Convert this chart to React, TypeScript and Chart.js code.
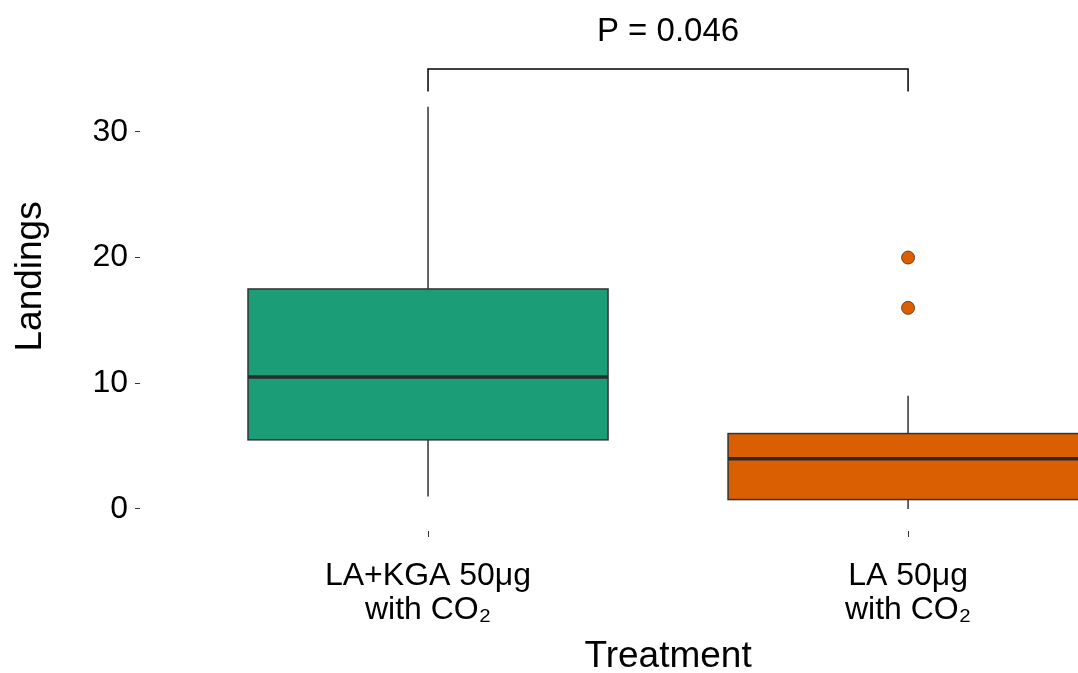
import React, { useEffect, useRef } from "react";
import { Chart, registerables } from "chart.js";

Chart.register(...registerables);

const categories: string[][] = [
  ["LA+KGA 50μg", "with CO₂"],
  ["LA 50μg", "with CO₂"],
];
const categoryPositions = [1, 2];
const whiskerLow = [1, 0];
const q1 = [5.5, 0.75];
const medians = [10.5, 4];
const q3 = [17.5, 6];
const whiskerHigh = [32, 9];
const outlierValues: number[][] = [[], [16, 20]];
const boxColors = ["#1B9E77", "#D95F02"];
const yTickValues = [0, 10, 20, 30];
const pValueLabel = "P = 0.046";
const bracketY = 35;
const bracketLegBottom = 33.2;
const pLabelY = 37.2;
const xTitle = "Treatment";
const yTitle = "Landings";
const yTitleCentre = 18.5;

const FONT = "'Liberation Sans', Arial, Helvetica, sans-serif";

const boxPlugin = {
  id: "boxplotDraw",
  beforeDatasetsDraw(chart: any) {
    const ctx = chart.ctx;
    const xs = chart.scales.x;
    const ys = chart.scales.y;
    const halfW = 0.375;
    ctx.save();
    for (let i = 0; i < categoryPositions.length; i++) {
      const c = categoryPositions[i];
      const xc = xs.getPixelForValue(c);
      const xl = xs.getPixelForValue(c - halfW);
      const xr = xs.getPixelForValue(c + halfW);
      const yLow = ys.getPixelForValue(whiskerLow[i]);
      const yQ1 = ys.getPixelForValue(q1[i]);
      const yMed = ys.getPixelForValue(medians[i]);
      const yQ3 = ys.getPixelForValue(q3[i]);
      const yHigh = ys.getPixelForValue(whiskerHigh[i]);
      ctx.strokeStyle = "#333333";
      ctx.lineWidth = 1.5;
      ctx.beginPath();
      ctx.moveTo(xc, yHigh);
      ctx.lineTo(xc, yQ3);
      ctx.moveTo(xc, yQ1);
      ctx.lineTo(xc, yLow);
      ctx.stroke();
      ctx.fillStyle = boxColors[i];
      ctx.fillRect(xl, yQ3, xr - xl, yQ1 - yQ3);
      ctx.strokeRect(xl, yQ3, xr - xl, yQ1 - yQ3);
      ctx.lineWidth = 3.5;
      ctx.strokeStyle = "#2b2b2b";
      ctx.beginPath();
      ctx.moveTo(xl, yMed);
      ctx.lineTo(xr, yMed);
      ctx.stroke();
    }
    const x1 = xs.getPixelForValue(categoryPositions[0]);
    const x2 = xs.getPixelForValue(categoryPositions[1]);
    const yb = ys.getPixelForValue(bracketY);
    const yleg = ys.getPixelForValue(bracketLegBottom);
    ctx.strokeStyle = "#000000";
    ctx.lineWidth = 1.5;
    ctx.beginPath();
    ctx.moveTo(x1, yleg);
    ctx.lineTo(x1, yb);
    ctx.lineTo(x2, yb);
    ctx.lineTo(x2, yleg);
    ctx.stroke();
    ctx.fillStyle = "#000000";
    ctx.font = `33px ${FONT}`;
    ctx.textAlign = "center";
    ctx.textBaseline = "alphabetic";
    ctx.fillText(pValueLabel, (x1 + x2) / 2, ys.getPixelForValue(pLabelY));
    ctx.restore();
  },
  afterDraw(chart: any) {
    const ctx = chart.ctx;
    const xs = chart.scales.x;
    const ys = chart.scales.y;
    ctx.save();
    ctx.fillStyle = "#000000";
    ctx.textAlign = "center";
    ctx.textBaseline = "alphabetic";
    ctx.font = `37px ${FONT}`;
    const xMid = (xs.getPixelForValue(categoryPositions[0]) + xs.getPixelForValue(categoryPositions[1])) / 2;
    ctx.fillText(xTitle, xMid, 667);
    ctx.translate(41, ys.getPixelForValue(yTitleCentre));
    ctx.rotate(-Math.PI / 2);
    ctx.fillText(yTitle, 0, 0);
    ctx.restore();
  },
};

export default function App() {
  const ref = useRef<HTMLCanvasElement | null>(null);
  useEffect(() => {
    if (!ref.current) return;
    const points: { x: number; y: number }[] = [];
    outlierValues.forEach((vals, i) =>
      vals.forEach((v) => points.push({ x: categoryPositions[i], y: v }))
    );
    const chart = new Chart(ref.current, {
      type: "scatter",
      data: {
        datasets: [
          {
            data: points,
            backgroundColor: boxColors[1],
            borderColor: "#5a2a0a",
            borderWidth: 0.8,
            pointRadius: 6.5,
          },
        ],
      },
      options: {
        responsive: false,
        animation: false,
        layout: { padding: 0, autoPadding: false },
        plugins: { legend: { display: false }, tooltip: { enabled: false } },
        scales: {
          x: {
            type: "linear",
            min: 0.4,
            max: 2.354,
            afterFit: (s: any) => {
              s.height = 142;
            },
            afterBuildTicks: (s: any) => {
              s.ticks = categoryPositions.map((v) => ({ value: v }));
            },
            grid: {
              drawOnChartArea: false,
              drawTicks: true,
              tickLength: 6,
              color: "#333333",
              lineWidth: 1,
            },
            border: { display: false },
            ticks: {
              color: "#000",
              font: { family: FONT, size: 32, lineHeight: 1.06 },
              padding: 22,
              maxRotation: 0,
              autoSkip: false,
              callback: (v: any) => {
                const idx = categoryPositions.indexOf(Number(v));
                return idx >= 0 ? categories[idx] : "";
              },
            },
            title: { display: false },
          },
          y: {
            type: "linear",
            min: -1.75,
            max: 38.4,
            afterFit: (s: any) => {
              s.width = 140;
            },
            afterBuildTicks: (s: any) => {
              s.ticks = yTickValues.map((v) => ({ value: v }));
            },
            grid: {
              drawOnChartArea: false,
              drawTicks: true,
              tickLength: 5,
              color: "#333333",
              lineWidth: 1,
            },
            border: { display: false },
            ticks: {
              color: "#000",
              font: { family: FONT, size: 32 },
              padding: 7,
            },
            title: { display: false },
          },
        },
      },
      plugins: [boxPlugin],
    });
    return () => chart.destroy();
  }, []);
  return (
    <div style={{ position: "fixed", left: 0, top: 0, width: 1078, height: 673, background: "#fff" }}>
      <canvas ref={ref} width={1078} height={673} style={{ display: "block" }} />
    </div>
  );
}
